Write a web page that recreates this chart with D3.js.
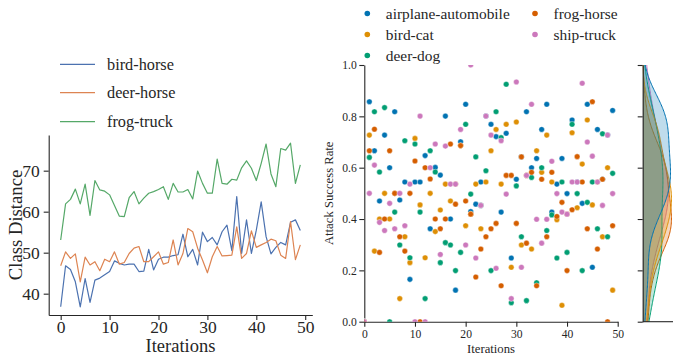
<!DOCTYPE html>
<html><head><meta charset="utf-8">
<script src="https://cdn.jsdelivr.net/npm/d3@7"></script>
<style>
body{margin:0;background:#fff}
svg{display:block}
text{font-family:"Liberation Serif","Times New Roman",serif;fill:#262626}
</style>
</head><body>
<svg id="c" width="673" height="358"></svg>
<script>
// ---------- data: left chart (class distance) ----------
const iterations = d3.range(50);
const lineNames = ["bird-horse", "deer-horse", "frog-truck"];
const birdHorse = [36.8,46.8,45.9,42.9,36.8,43.7,37.9,43.3,43.8,44.6,45.4,48.0,47.4,47.0,47.2,47.2,45.4,45.5,50.8,45.8,48.4,48.9,48.9,49.3,49.5,54.5,49.0,50.8,47.0,55.0,52.7,53.7,51.9,55.1,56.7,50.5,63.7,49.8,58.0,49.8,55.5,62.4,53.9,49.7,51.3,52.5,51.9,57.4,58.0,55.4];
const deerHorse = [46.8,50.2,48.6,49.7,42.9,48.9,47.0,47.8,45.6,48.4,47.8,50.2,47.2,47.6,49.8,51.1,51.5,47.8,47.8,49.0,50.2,47.2,47.6,53.1,47.0,49.8,55.9,55.1,51.1,48.2,45.1,49.0,51.5,49.2,49.3,49.4,56.3,48.6,49.8,55.3,51.3,51.9,52.5,53.3,52.9,49.4,48.6,57.6,48.3,51.9];
const frogTruck = [53.1,61.9,63.0,65.5,61.9,66.7,59.1,67.6,65.3,65.0,64.1,61.5,58.9,58.8,63.4,64.9,61.9,63.3,64.5,64.9,65.4,66.1,63.0,66.9,64.8,64.8,65.4,63.1,69.9,66.9,64.5,64.5,72.8,66.9,66.7,67.9,67.7,70.7,72.4,70.6,67.6,71.8,76.5,69.2,66.1,75.4,75.0,76.7,66.9,71.4];
const lineColors = ["#4c72b0", "#dd8452", "#55a868"];
const leftXTicks = [0, 10, 20, 30, 40, 50];
const leftYTicks = [40, 50, 60, 70];
const leftXDomain = [-2.45, 51.45];
const leftYDomain = [34.8, 78.7];

// ---------- data: right chart (attack success rate) ----------
const pairNames = ["airplane-automobile", "bird-cat", "deer-dog", "frog-horse", "ship-truck"];
const airplaneAutomobile = [0,0.857,0.666,0.47,0.727,0.6,0.818,0.474,0.544,0.165,0.544,0.544,0.647,0.362,0.601,0.571,0.801,0.4,0.123,0.701,0.847,0.429,0.458,0.544,0.801,0.769,0.721,0.427,0.734,0.248,0.555,0.642,0.818,0.6,0.636,0.749,0.847,0.427,0.536,0.636,0.499,0.786,0.544,0.461,0.847,0.212,0.749,0.555,0.727,0.823];
const birdCat = [0,0.727,0.275,0.4,0.5,0.4,0.5,0.09,0.331,0.23,0.714,0.455,0.249,0.5,0.351,0.435,0.536,0.47,0.536,0.686,0.374,0.419,0.536,0.362,0.544,0.666,0.749,0.536,0.769,0.212,0.778,0.299,0.57,0.283,0.666,0.582,0.727,0.544,0.397,0.064,0.419,0.736,0.444,0.614,0.786,0.455,0.544,0.331,0.6,0.123];
const deerDog = [0,0.64,0.818,0.583,0.834,0,0.427,0.299,0.705,0.249,0.692,0.427,0.09,0.666,0.583,0.23,0.308,0.299,0.199,0.27,0.769,0.497,0.642,0.453,0.588,0.199,0.818,0.717,0.925,0.074,0.529,0.331,0.082,0.562,0.152,0.6,0.355,0.416,0.248,0.544,0.27,0.769,0.499,0.199,0.465,0.544,0.362,0.732,0.331,0.578];
const frogHorse = [0,0.666,0.75,0.27,0.4,0.666,0.5,0.331,0.275,0.5,0.626,0,0.6,0.556,0.4,0.362,0.4,0.692,0.458,0.686,0.47,0.419,0.174,0.283,0.331,0.362,0.383,0.14,0.57,0.57,0.383,0.642,0.306,0.582,0.14,0.555,0.331,0.582,0.41,0.465,0.199,0.436,0.643,0.544,0.362,0.857,0.283,0.555,0,0.374];
const shipTruck = [0,0.5,0.61,0.387,0.355,0.461,0.362,0.5,0.374,0.536,0,0.801,0,0.6,0.692,0.262,0.684,0.536,0.536,0.749,0.299,1.0,0.248,0.453,0.801,0.727,0.208,0.705,0.497,0.09,0.934,0.212,0.57,0.847,0.399,0.306,0.399,0.625,0.499,0.427,0.419,0.544,0.544,0.929,0.7,0.645,0.544,0.453,0.727,0.499];
const pairColors = ["#0173b2", "#de8f05", "#029e73", "#d55e00", "#cc78bc"];
const rightXTicks = [0, 10, 20, 30, 40, 50];
const rightYTicks = [0, 0.2, 0.4, 0.6, 0.8, 1.0];

// ---------- build ----------
const lineData = [birdHorse, deerHorse, frogTruck];
const pairData = [airplaneAutomobile, birdCat, deerDog, frogHorse, shipTruck];
const svg = d3.select("#c");
const axisColor = "#262626";
const serif = '"Liberation Serif","Times New Roman",serif';

function styleAxis(g, fs) {
  g.attr("font-family", serif);
  g.selectAll("path.domain").attr("stroke", axisColor).attr("stroke-width", 1.1);
  g.selectAll(".tick line").attr("stroke", axisColor).attr("stroke-width", 1.1);
  g.selectAll(".tick text").attr("font-family", serif).attr("font-size", fs).attr("fill", axisColor);
}

// Left chart
const xL = d3.scaleLinear().domain(leftXDomain).range([48.7, 312.3]);
const yL = d3.scaleLinear().domain(leftYDomain).range([315, 135]);
const gxL = svg.append("g").attr("transform", "translate(0,315)")
  .call(d3.axisBottom(xL).tickValues(leftXTicks).tickSize(5).tickSizeOuter(0).tickPadding(1));
styleAxis(gxL, "17.5px");
const gyL = svg.append("g").attr("transform", "translate(48.7,0)")
  .call(d3.axisLeft(yL).tickValues(leftYTicks).tickSize(5).tickSizeOuter(0).tickPadding(4));
styleAxis(gyL, "17.5px");

const line = d3.line().x((d, i) => xL(iterations[i])).y(d => yL(d));
lineData.forEach((s, k) => {
  svg.append("path").datum(s).attr("d", line).attr("fill", "none")
    .attr("stroke", lineColors[k]).attr("stroke-width", 1.2).attr("stroke-linejoin", "round");
});
svg.append("text").attr("x", 180.5).attr("y", 352).attr("text-anchor", "middle")
  .attr("font-size", "18.5px").text("Iterations");
svg.append("text").attr("transform", "translate(22,225) rotate(-90)").attr("text-anchor", "middle")
  .attr("font-size", "18.7px").text("Class Distance");

// left legend
const legL = [64.3, 92.7, 121.7];
lineNames.forEach((n, k) => {
  svg.append("line").attr("x1", 60).attr("x2", 95).attr("y1", legL[k]).attr("y2", legL[k])
    .attr("stroke", lineColors[k]).attr("stroke-width", 1.2);
  svg.append("text").attr("x", 107).attr("y", legL[k]).attr("dy", "0.33em")
    .attr("font-size", "16.3px").text(n);
});

// Right scatter
const xR = d3.scaleLinear().domain([0, 50]).range([364.3, 617.7]);
const yR = d3.scaleLinear().domain([0, 1]).range([321.7, 65]);
svg.append("clipPath").attr("id", "clipR").append("rect")
  .attr("x", 364.3).attr("y", 65).attr("width", 253.4).attr("height", 256.7);
const gxR = svg.append("g").attr("transform", "translate(0,321.7)")
  .call(d3.axisBottom(xR).tickValues(rightXTicks).tickSize(5).tickSizeOuter(0).tickPadding(3));
styleAxis(gxR, "11.6px");
const gyR = svg.append("g").attr("transform", "translate(364.3,0)")
  .call(d3.axisLeft(yR).tickValues(rightYTicks).tickFormat(d3.format(".1f")).tickSize(5).tickSizeOuter(0).tickPadding(2.5));
styleAxis(gyR, "11.6px");

const dots = svg.append("g").attr("clip-path", "url(#clipR)");
pairData.forEach((s, k) => {
  dots.selectAll(null).data(s).enter().append("circle")
    .attr("cx", (d, i) => xR(iterations[i])).attr("cy", d => yR(d)).attr("r", 2.8)
    .attr("fill", pairColors[k]).attr("stroke", "#fff").attr("stroke-width", 0.4);
});
svg.append("text").attr("x", 491).attr("y", 353).attr("text-anchor", "middle")
  .attr("font-size", "12.7px").text("Iterations");
svg.append("text").attr("transform", "translate(333,193.3) rotate(-90)").attr("text-anchor", "middle")
  .attr("font-size", "12.7px").text("Attack Success Rate");

// right legend
const legPos = [[367.3, 13.5], [367.3, 34.5], [367.3, 55.5], [535, 13.5], [535, 34.5]];
pairNames.forEach((n, k) => {
  svg.append("circle").attr("cx", legPos[k][0]).attr("cy", legPos[k][1]).attr("r", 2.8).attr("fill", pairColors[k]);
  svg.append("text").attr("x", legPos[k][0] + 18.5).attr("y", legPos[k][1]).attr("dy", "0.33em")
    .attr("font-size", "15.4px").text(n);
});

// Marginal KDE
const kdeLeft = 642.7;
svg.append("clipPath").attr("id", "clipK").append("rect")
  .attr("x", kdeLeft).attr("y", 65).attr("width", 40).attr("height", 256.7);
const grid = d3.range(-0.1, 1.1001, 0.005);
function kde(vals) {
  const n = vals.length, sd = d3.deviation(vals), bw = sd * Math.pow(n, -0.2);
  return grid.map(y => ({ y, d: d3.mean(vals, v => Math.exp(-0.5 * ((y - v) / bw) ** 2)) / (bw * Math.sqrt(2 * Math.PI)) }));
}
const dens = pairData.map(kde);
const maxD = d3.max(dens, a => d3.max(a, p => p.d));
const xD = d3.scaleLinear().domain([0, maxD]).range([kdeLeft, 671.5]);
const gK = svg.append("g").attr("clip-path", "url(#clipK)");
const area = d3.area().y(p => yR(p.y)).x0(kdeLeft).x1(p => xD(p.d));
const edge = d3.line().y(p => yR(p.y)).x(p => xD(p.d));
for (let k = pairData.length - 1; k >= 0; k--) {
  gK.append("path").datum(dens[k]).attr("d", area).attr("fill", pairColors[k]).attr("fill-opacity", 0.25);
  gK.append("path").datum(dens[k]).attr("d", edge).attr("fill", "none").attr("stroke", pairColors[k]).attr("stroke-width", 1);
}
const gyK = svg.append("g").attr("transform", `translate(${kdeLeft},0)`)
  .call(d3.axisLeft(yR).tickValues(rightYTicks).tickFormat("").tickSize(5).tickSizeOuter(0));
styleAxis(gyK, "11px");
svg.append("line").attr("x1", kdeLeft).attr("x2", 673).attr("y1", 321.7).attr("y2", 321.7)
  .attr("stroke", axisColor).attr("stroke-width", 1.1);
</script>
</body></html>
